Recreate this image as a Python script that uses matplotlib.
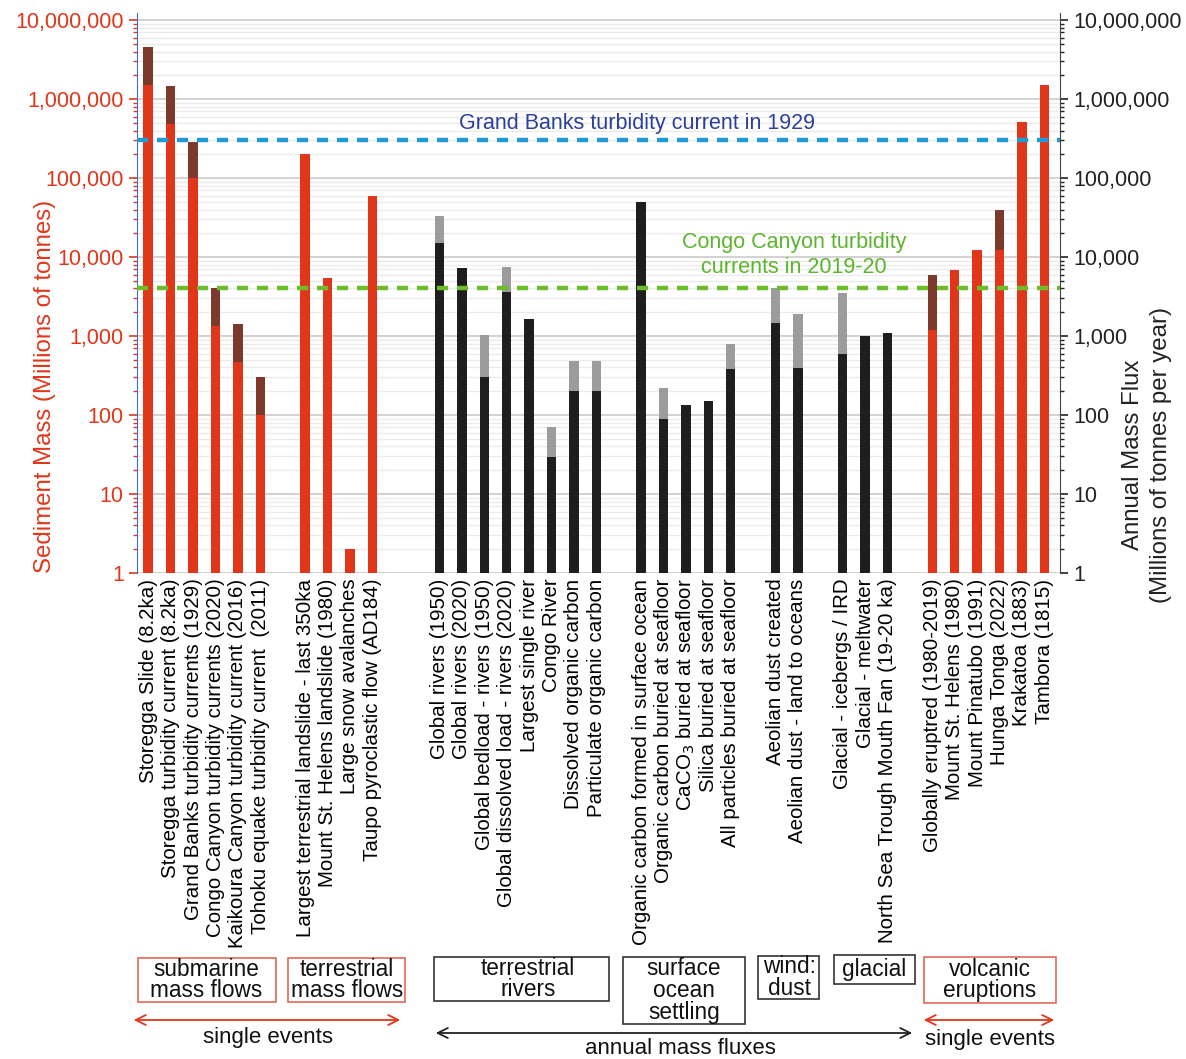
import matplotlib
matplotlib.use("Agg")
import matplotlib.pyplot as plt
import numpy as np
from matplotlib.patches import Rectangle, FancyArrowPatch
from matplotlib.ticker import FuncFormatter, LogLocator

plt.rcParams['font.family'] = ['Liberation Sans', 'DejaVu Sans']

# ---- data (millions of tonnes / millions of tonnes per year) ----
sub_labels = ["Storegga Slide (8.2ka)", "Storegga turbidity current (8.2ka)",
              "Grand Banks turbidity currents (1929)", "Congo Canyon turbidity currents (2020)",
              "Kaikoura Canyon turbidity current (2016)", "Tohoku equake turbidity current  (2011)"]
sub_lower = [1.5e6, 4.9e5, 1.0e5, 1350, 465, 100]
sub_total = [4.5e6, 1.45e6, 2.9e5, 4000, 1420, 300]

terr_labels = ["Largest terrestrial landslide - last 350ka", "Mount St. Helens landslide (1980)",
               "Large snow avalanches", "Taupo pyroclastic flow (AD184)"]
terr_lower = [2.0e5, 5500, 2, 5.9e4]
terr_total = [2.0e5, 5500, 2, 5.9e4]

river_labels = ["Global rivers (1950)", "Global rivers (2020)", "Global bedload - rivers (1950)",
                "Global dissolved load - rivers (2020)", "Largest single river", "Congo River",
                "Dissolved organic carbon", "Particulate organic carbon"]
river_lower = [15000, 7200, 300, 3560, 1660, 29, 200, 200]
river_total = [33000, 7200, 1020, 7400, 1660, 71, 490, 490]

ocean_labels = ["Organic carbon formed in surface ocean", "Organic carbon buried at seafloor",
                "CaCO$_3$ buried at seafloor", "Silica buried at seafloor",
                "All particles buried at seafloor"]
ocean_lower = [50000, 88, 134, 152, 378]
ocean_total = [50000, 218, 134, 152, 800]

wind_labels = ["Aeolian dust created", "Aeolian dust - land to oceans"]
wind_lower = [1480, 395]
wind_total = [4060, 1900]

glacial_labels = ["Glacial - icebergs / IRD", "Glacial - meltwater",
                  "North Sea Trough Mouth Fan (19-20 ka)"]
glacial_lower = [600, 1000, 1100]
glacial_total = [3540, 1000, 1100]

volc_labels = ["Globally eruptred (1980-2019)", "Mount St. Helens (1980)", "Mount Pinatubo (1991)",
               "Hunga Tonga (2022)", "Krakatoa (1883)", "Tambora (1815)"]
volc_lower = [1180, 6950, 12400, 12400, 5.1e5, 1.5e6]
volc_total = [6000, 6950, 12400, 40000, 5.1e5, 1.5e6]

grand_banks = 3.0e5
congo_canyon = 4000

# group: labels, lower, total, is single event, empty slots before group
groups = [
    (sub_labels, sub_lower, sub_total, True, 0),
    (terr_labels, terr_lower, terr_total, True, 1),
    (river_labels, river_lower, river_total, False, 2),
    (ocean_labels, ocean_lower, ocean_total, False, 1),
    (wind_labels, wind_lower, wind_total, False, 1),
    (glacial_labels, glacial_lower, glacial_total, False, 1),
    (volc_labels, volc_lower, volc_total, True, 1),
]

RED, BROWN = "#e2361a", "#7b3a2c"
BLACK, GREY = "#1e1e1e", "#9c9c9c"

W, H = 1186, 1059
fig = plt.figure(figsize=(W / 100, H / 100), dpi=100)
ax = fig.add_axes([137 / W, 1 - 573 / H, (1060 - 137) / W, (573 - 13) / H])
ax.set_yscale("log")
ax.set_ylim(1, 1.23e7)

ticks, ticklabels = [], []
pos = 0
for labels, lower, total, event, gap in groups:
    pos += gap
    x = np.arange(pos, pos + len(labels))
    lo = np.array(lower, float)
    tot = np.array(total, float)
    c1, c2 = (RED, BROWN) if event else (BLACK, GREY)
    ax.bar(x, lo - 1, bottom=1, width=0.42, color=c1, zorder=3)
    ax.bar(x, tot - lo, bottom=lo, width=0.42, color=c2, zorder=3)
    ticks += list(x)
    ticklabels += labels
    pos += len(labels)

ax.set_xlim(-0.5, pos - 0.3)
ax.set_xticks(ticks)
ax.set_xticklabels(ticklabels, rotation=90, fontsize=14.8, va="top", ha="center")
ax.tick_params(axis="x", length=0, pad=4)

# grid
ax.yaxis.set_major_locator(LogLocator(base=10, numticks=10))
ax.yaxis.set_minor_locator(LogLocator(base=10, subs=np.arange(2, 10), numticks=20))
ax.grid(which="major", axis="y", color="#cfcfcf", lw=1.3, zorder=0)
ax.grid(which="minor", axis="y", color="#ebebeb", lw=1.0, zorder=0)

fmt = FuncFormatter(lambda v, p: f"{v:,.0f}")
ax.yaxis.set_major_formatter(fmt)
ax.tick_params(axis="y", which="major", colors=RED, labelsize=15.5, length=6, width=1.2)
ax.tick_params(axis="y", which="minor", colors=RED, length=3, width=1)
for s in ["top", "right", "bottom"]:
    ax.spines[s].set_visible(False)
ax.spines["left"].set_color("#3a6fd0")

ax2 = ax.twinx()
ax2.set_yscale("log")
ax2.set_ylim(ax.get_ylim())
ax2.yaxis.set_major_locator(LogLocator(base=10, numticks=10))
ax2.yaxis.set_minor_locator(LogLocator(base=10, subs=np.arange(2, 10), numticks=20))
ax2.yaxis.set_major_formatter(fmt)
ax2.tick_params(axis="y", which="major", colors="#222222", labelsize=15.5, length=6, width=1.2)
ax2.tick_params(axis="y", which="minor", colors="#222222", length=3, width=1)
for s in ["top", "left", "bottom"]:
    ax2.spines[s].set_visible(False)
ax2.spines["right"].set_color("#444444")

# axis titles placed directly so tick labels don't push them around
fig.text(45 / W, 1 - 386 / H, "Sediment Mass (Millions of tonnes)", color=RED, fontsize=17.3,
         rotation=90, ha="center", va="center")
fig.text(1147 / W, 1 - 455 / H, "Annual Mass Flux\n(Millions of tonnes per year)", color="#222222",
         fontsize=17.3, rotation=90, ha="center", va="center", linespacing=1.3)

# reference lines
ax.axhline(grand_banks, color="#1f9ad6", lw=3.2, ls=(0, (2.5, 2)), zorder=4)
ax.axhline(congo_canyon, color="#6cbd2a", lw=3.2, ls=(0, (2.5, 2)), zorder=4)
ax.text(637 / W, 1 - 124 / H, "Grand Banks turbidity current in 1929", transform=fig.transFigure,
        color="#2b3f9c", fontsize=15.5, ha="center", va="center")
ax.text(794 / W, 1 - 255 / H, "Congo Canyon turbidity\ncurrents in 2019-20", transform=fig.transFigure,
        color="#5ab52a", fontsize=15.5, ha="center", va="center", linespacing=1.3)

# category boxes under the labels (pixel boxes: x0, x1, y0, y1, text center)
boxes = [
    ("submarine\nmass flows", 138, 276, 958, 1002, 206, "#e06a58"),
    ("terrestrial\nmass flows", 288, 405, 958, 1002, 347, "#e06a58"),
    ("terrestrial\nrivers", 434, 609, 957, 1001, 528, "#333333"),
    ("surface\nocean\nsettling", 623, 745, 957, 1024, 684, "#333333"),
    ("wind:\ndust", 758, 819, 956, 999, 789, "#333333"),
    ("glacial", 834, 915, 955, 984, 874, "#333333"),
    ("volcanic\neruptions", 924, 1056, 957, 1003, 990, "#e06a58"),
]
for txt, x0, x1, y0, y1, xc, ec in boxes:
    fig.patches.append(Rectangle((x0 / W, 1 - y1 / H), (x1 - x0) / W, (y1 - y0) / H,
                                 transform=fig.transFigure, fill=False, ec=ec, lw=1.2))
    fig.text(xc / W, 1 - (y0 + y1) / 2 / H, txt, ha="center", va="center",
             fontsize=16.3, linespacing=0.92, color="#111111")

arrows = [
    (131, 403, 1020, "#e2361a", "single events", 268, 1038),
    (433, 915, 1033, "#222222", "annual mass fluxes", 680, 1049),
    (921, 1057, 1020, "#e2361a", "single events", 990, 1039),
]
for x0, x1, y, c, txt, tx, ty in arrows:
    fig.patches.append(FancyArrowPatch((x0 / W, 1 - y / H), (x1 / W, 1 - y / H),
                                       transform=fig.transFigure, arrowstyle="<->",
                                       mutation_scale=18, color=c, lw=1.3))
    fig.text(tx / W, 1 - ty / H, txt, ha="center", va="center", fontsize=16, color="#111111")

fig.savefig("out.png", dpi=100)
